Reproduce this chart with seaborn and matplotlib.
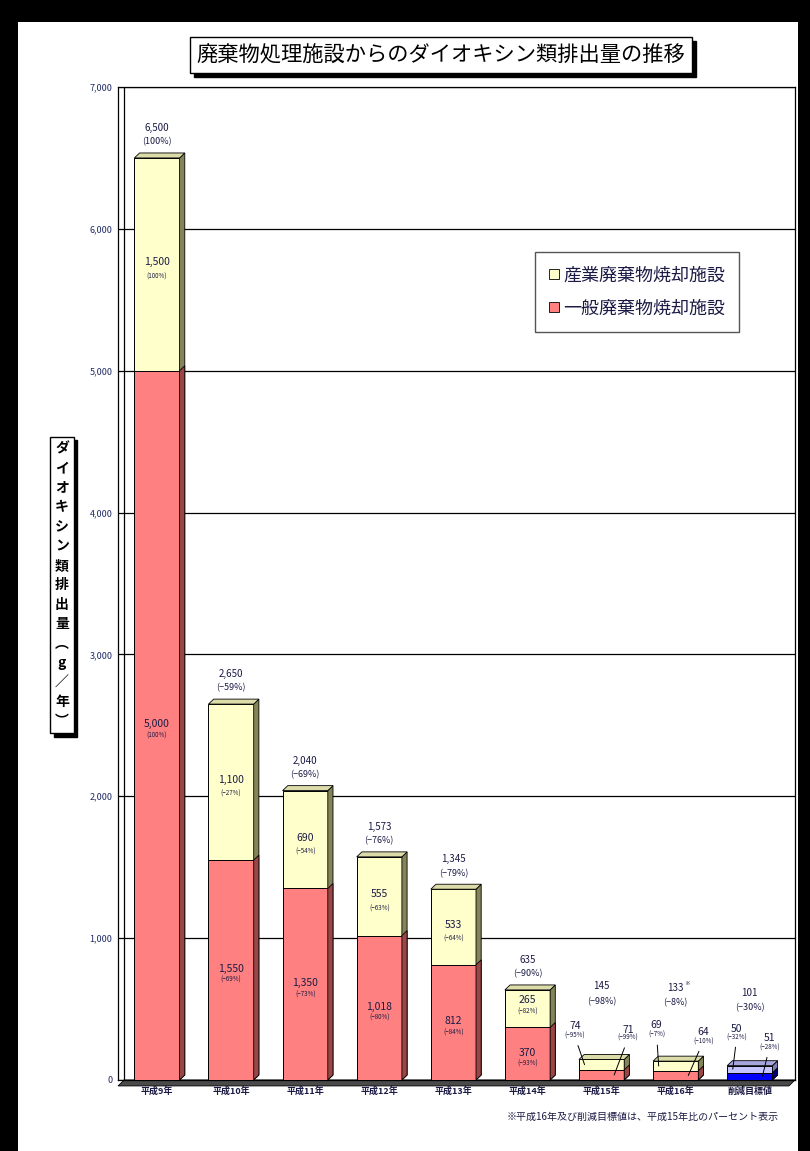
import matplotlib
matplotlib.use("Agg")
import matplotlib.pyplot as plt
import matplotlib.transforms as mtransforms
import seaborn as sns
from matplotlib.patches import Rectangle, Polygon, Patch
from matplotlib.ticker import FuncFormatter

# ---------------- data ----------------
categories = ["平成9年", "平成10年", "平成11年", "平成12年", "平成13年",
              "平成14年", "平成15年", "平成16年", "削減目標値"]
general = [5000, 1550, 1350, 1018, 812, 370, 71, 64, 51]        # 一般廃棄物焼却施設
industrial = [1500, 1100, 690, 555, 533, 265, 74, 69, 50]       # 産業廃棄物焼却施設
totals = [6500, 2650, 2040, 1573, 1345, 635, 145, 133, 101]
general_pct = ["(100%)", "(−69%)", "(−73%)", "(−80%)", "(−84%)",
               "(−93%)", "(−99%)", "(−10%)", "(−28%)"]
industrial_pct = ["(100%)", "(−27%)", "(−54%)", "(−63%)", "(−64%)",
                  "(−82%)", "(−95%)", "(−7%)", "(−32%)"]
total_pct = ["(100%)", "(−59%)", "(−69%)", "(−76%)", "(−79%)",
             "(−90%)", "(−98%)", "(−8%)", "(−30%)"]
yticks = [0, 1000, 2000, 3000, 4000, 5000, 6000, 7000]
legend_labels = ["産業廃棄物焼却施設", "一般廃棄物焼却施設"]
title = "廃棄物処理施設からのダイオキシン類排出量の推移"
ylabel_chars = ["ダ", "イ", "オ", "キ", "シ", "ン", "類", "排", "出", "量", "︵", "g", "／", "年", "︶"]
footnote = "※平成16年及び削減目標値は、平成15年比のパーセント表示"

# ---------------- styles ----------------
upper_colors = ["#FFFFCC"] * 8 + ["#C4C4FF"]
lower_colors = ["#FF8080"] * 8 + ["#0000FF"]
upper_side = ["#84845a"] * 8 + ["#7c7cae"]
upper_top = ["#dcdcaa"] * 8 + ["#a6a6dc"]
lower_side = ["#9a4646"] * 8 + ["#00006e"]
txt_color = "#1b1b45"

sns.set_style("white")
plt.rcParams["font.family"] = ["Noto Sans CJK JP", "DejaVu Sans"]

fig = plt.figure(figsize=(8.1, 11.51), dpi=100, facecolor="black")
fig.patches.append(Rectangle((0.022, 0.0), 0.963, 0.981, transform=fig.transFigure,
                             facecolor="white", edgecolor="none", zorder=-1))

ax = fig.add_axes([0.1457, 0.0617, 0.8358, 0.8627])
ax.set_facecolor("none")

bw = 0.61
sns.barplot(x=categories, y=totals, hue=categories, palette=upper_colors, legend=False,
            width=bw, saturation=1, edgecolor="black", linewidth=0.7, ax=ax, zorder=3)
n_upper = len(ax.patches)
sns.barplot(x=categories, y=general, hue=categories, palette=lower_colors, legend=False,
            width=bw, saturation=1, edgecolor="black", linewidth=0.7, ax=ax, zorder=4)
upper_bars = sorted(ax.patches[:n_upper], key=lambda p: p.get_x())
lower_bars = sorted(ax.patches[n_upper:], key=lambda p: p.get_x())

ax.set_ylim(0, 7000)
ax.set_xlim(-0.526, 8.61)

# 3D faces derived from bar geometry
dx, dy = 0.07, 35
for i, r in enumerate(upper_bars):
    x0, w, h = r.get_x(), r.get_width(), r.get_height()
    x1 = x0 + w
    ax.add_patch(Polygon([(x1, 0), (x1 + dx, dy), (x1 + dx, h + dy), (x1, h)], closed=True,
                         facecolor=upper_side[i], edgecolor="black", lw=0.6, zorder=3))
    ax.add_patch(Polygon([(x0, h), (x0 + dx, h + dy), (x1 + dx, h + dy), (x1, h)], closed=True,
                         facecolor=upper_top[i], edgecolor="black", lw=0.6, zorder=3))
for i, r in enumerate(lower_bars):
    x0, w, h = r.get_x(), r.get_width(), r.get_height()
    x1 = x0 + w
    ax.add_patch(Polygon([(x1, 0), (x1 + dx, dy), (x1 + dx, h + dy), (x1, h)], closed=True,
                         facecolor=lower_side[i], edgecolor="black", lw=0.6, zorder=4))

# walls / floor
for s in ax.spines.values():
    s.set_color("black")
    s.set_linewidth(0.9)
ax.plot([0.009, 0.009], [0, 1], transform=ax.transAxes, color="black", lw=0.9)
ax.add_patch(Polygon([(0, -0.006), (0.009, 0.0), (1.0, 0.0), (0.991, -0.006)],
                     closed=True, transform=ax.transAxes, facecolor="#4a4a4a",
                     edgecolor="black", lw=0.6, clip_on=False, zorder=2))
ax.set_axisbelow(True)
ax.yaxis.grid(True, color="black", lw=0.9)
ax.xaxis.grid(False)

ax.set_yticks(yticks)
ax.yaxis.set_major_formatter(FuncFormatter(lambda v, p: f"{int(v):,}"))
ax.tick_params(axis="y", labelsize=6.5, labelcolor="#1f2a66", length=0, pad=4)
ax.tick_params(axis="x", labelsize=6.5, labelcolor=txt_color, length=0, pad=5)
for t in ax.get_xticklabels():
    t.set_fontweight("bold")
ax.set_xlabel("")
ax.set_ylabel("")

# ---------------- labels ----------------
def ann(text, xy, off_px, size, **kw):
    return ax.annotate(text, xy=xy, xytext=(off_px[0] * 0.72, off_px[1] * 0.72),
                       textcoords="offset points", ha="center", va="center",
                       fontsize=size, color=txt_color, zorder=6, **kw)

big = 6
for i in range(big):
    mid_u = general[i] + industrial[i] / 2
    mid_l = general[i] / 2
    if industrial[i] < 300:
        ann(f"{industrial[i]:,}", (i, mid_u), (0, 9), 7.5)
        ann(industrial_pct[i], (i, mid_u), (0, -3), 4.5)
    else:
        ann(f"{industrial[i]:,}", (i, mid_u), (0, 2), 7.5)
        ann(industrial_pct[i], (i, mid_u), (0, -12), 4.5)
    ann(f"{general[i]:,}", (i, mid_l), (0, 1), 7.5)
    ann(general_pct[i], (i, mid_l), (0, -10), 4.5)
    ann(f"{totals[i]:,}", (i, totals[i]), (0, 30), 7)
    ann(total_pct[i], (i, totals[i]), (0, 16), 6.5)

# small bars with leader lines
up_off = [(-9, 39, -10, 29), (-2, 41, -2, 31), (4, 40, 4, 32)]
lo_off = [(14, 45, 14, 37), (15, 43, 15, 34), (7, 38, 7, 29)]
leader = dict(arrowstyle="-", lw=0.7, color="black", shrinkA=2, shrinkB=0)
for k, i in enumerate(range(big, len(categories))):
    mid_u = general[i] + industrial[i] / 2
    mid_l = general[i] / 2
    ou = up_off[k]
    ann(f"{industrial[i]:,}", (i - 0.23, mid_u), (ou[0], ou[1]), 7.5)
    ann(industrial_pct[i], (i - 0.23, mid_u), (ou[2], ou[3]), 4.5, arrowprops=leader)
    ol = lo_off[k]
    ann(f"{general[i]:,}", (i + 0.17, mid_l), (ol[0], ol[1]), 7.5)
    ann(general_pct[i], (i + 0.17, mid_l), (ol[2], ol[3]), 4.5, arrowprops=leader)
    ann(f"{totals[i]:,}", (i, totals[i]), (0, 73), 7)
    ann(total_pct[i], (i, totals[i]), (0, 58), 6.5)
    if categories[i] == "平成16年":
        ann("※", (i, totals[i]), (11, 78), 4)

# legend
handles = [Patch(facecolor=upper_colors[0], edgecolor="black", lw=0.6, label=legend_labels[0]),
           Patch(facecolor=lower_colors[0], edgecolor="black", lw=0.6, label=legend_labels[1])]
leg = ax.legend(handles=handles, loc="upper left", bbox_to_anchor=(0.616, 0.834),
                borderaxespad=0, frameon=True, fancybox=False, edgecolor="#555555",
                fontsize=13, handlelength=0.5, handleheight=0.5, handletextpad=0.25,
                labelspacing=0.85, borderpad=0.8, framealpha=1)
leg.get_frame().set_linewidth(1.0)
for t in leg.get_texts():
    t.set_color(txt_color)

# title box
tx, ty = 0.5447, 0.952
t_title = fig.text(tx, ty, title, ha="center", va="center", fontsize=15.3, color="black",
                   bbox=dict(boxstyle="square,pad=0.32", facecolor="white",
                             edgecolor="black", lw=1.0))

# vertical y label box
ylab = "\n".join(ylabel_chars)
lx, ly = 0.0765, 0.4917
t_ylab = fig.text(lx, ly, ylab, ha="center", va="center", fontsize=10, fontweight="bold",
                  linespacing=1.5, color="black",
                  bbox=dict(boxstyle="square,pad=0.35", facecolor="white",
                            edgecolor="black", lw=1.0))

# shadows behind the boxes (derived from the drawn box extents)
fig.canvas.draw()
renderer = fig.canvas.get_renderer()
for t in (t_title, t_ylab):
    bb = t.get_bbox_patch().get_window_extent(renderer)
    fig.patches.append(Rectangle((bb.x0 + 3.5, bb.y0 - 3.5), bb.width, bb.height,
                                 transform=mtransforms.IdentityTransform(),
                                 facecolor="black", edgecolor="black", zorder=1))

# footnote
fig.text(0.961, 0.0295, footnote, ha="right", va="center", fontsize=7.2, color=txt_color)

fig.savefig("out.png", dpi=100, facecolor=fig.get_facecolor())
